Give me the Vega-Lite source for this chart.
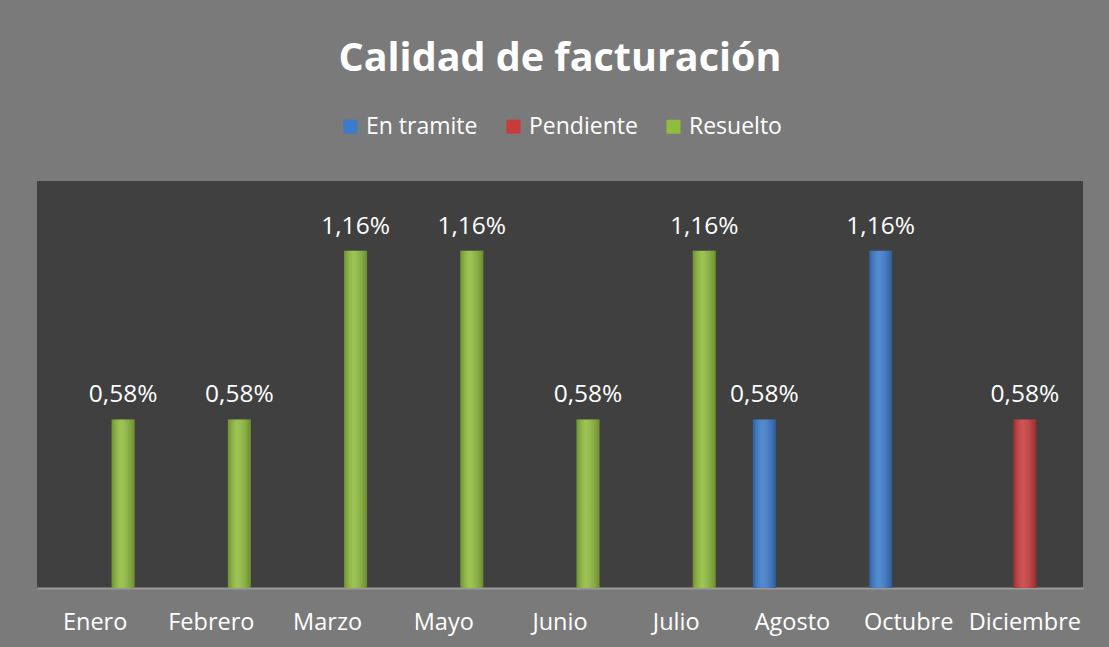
{
  "$schema": "https://vega.github.io/schema/vega-lite/v6.json",
  "width": 1046,
  "height": 407,
  "autosize": {"type": "none"},
  "padding": {"left": 37, "top": 181, "right": 26, "bottom": 59},
  "background": "#7a7a7a",
  "title": {
    "text": "Calidad de facturación",
    "fontSize": 39.5,
    "fontWeight": "bold",
    "font": "Open Sans",
    "color": "#ffffff",
    "anchor": "middle",
    "offset": 36
  },
  "data": {
    "values": [
      {"mes": "Enero", "estado": "Resuelto", "valor": 0.0058},
      {"mes": "Febrero", "estado": "Resuelto", "valor": 0.0058},
      {"mes": "Marzo", "estado": "Resuelto", "valor": 0.0116},
      {"mes": "Mayo", "estado": "Resuelto", "valor": 0.0116},
      {"mes": "Junio", "estado": "Resuelto", "valor": 0.0058},
      {"mes": "Julio", "estado": "Resuelto", "valor": 0.0116},
      {"mes": "Agosto", "estado": "En tramite", "valor": 0.0058},
      {"mes": "Octubre", "estado": "En tramite", "valor": 0.0116},
      {"mes": "Diciembre", "estado": "Pendiente", "valor": 0.0058}
    ]
  },
  "encoding": {
    "x": {
      "field": "mes",
      "type": "nominal",
      "sort": null,
      "scale": {"paddingInner": 0.32, "paddingOuter": 0.16},
      "axis": {
        "title": null,
        "labelAngle": 0,
        "labelColor": "#ffffff",
        "labelFontSize": 23.5,
        "labelFont": "Open Sans",
        "labelPadding": 22,
        "ticks": false,
        "domainColor": "#9a9a9a",
        "domainWidth": 2
      }
    },
    "xOffset": {
      "field": "estado",
      "type": "nominal",
      "scale": {"domain": ["En tramite", "Pendiente", "Resuelto"], "paddingInner": 0.18, "paddingOuter": 0}
    },
    "y": {
      "field": "valor",
      "type": "quantitative",
      "scale": {"domain": [0, 0.014], "nice": false},
      "axis": null
    }
  },
  "layer": [
    {
      "mark": {"type": "bar"},
      "encoding": {
        "color": {
          "field": "estado",
          "type": "nominal",
          "scale": {"domain": ["En tramite", "Pendiente", "Resuelto"], "range": ["#3b7bcc", "#c83b3b", "#8fbc3c"]},
          "legend": {
            "title": null,
            "orient": "none",
            "direction": "horizontal",
            "legendX": 302,
            "legendY": -66,
            "symbolType": "square",
            "symbolSize": 196,
            "symbolStrokeWidth": 0,
            "labelColor": "#ffffff",
            "labelFontSize": 23,
            "labelFont": "Open Sans",
            "columnPadding": 24,
            "labelOffset": 4
          }
        }
      }
    },
    {
      "mark": {
        "type": "bar",
        "color": {
          "gradient": "linear",
          "x1": 0, "x2": 1, "y1": 0, "y2": 0,
          "stops": [
            {"offset": 0, "color": "rgba(0,0,0,0.22)"},
            {"offset": 0.4, "color": "rgba(255,255,255,0.12)"},
            {"offset": 1, "color": "rgba(0,0,0,0.25)"}
          ]
        }
      },
      "encoding": {}
    },
    {
      "mark": {"type": "text", "baseline": "bottom", "dy": -12, "color": "#ffffff", "fontSize": 24.5, "font": "Open Sans"},
      "encoding": {
        "text": {"field": "valor", "type": "quantitative", "format": ".2%"}
      }
    }
  ],
  "config": {
    "locale": {"number": {"decimal": ",", "thousands": ".", "grouping": [3], "currency": ["", " €"]}},
    "view": {"fill": "#404040", "stroke": null}
  }
}
